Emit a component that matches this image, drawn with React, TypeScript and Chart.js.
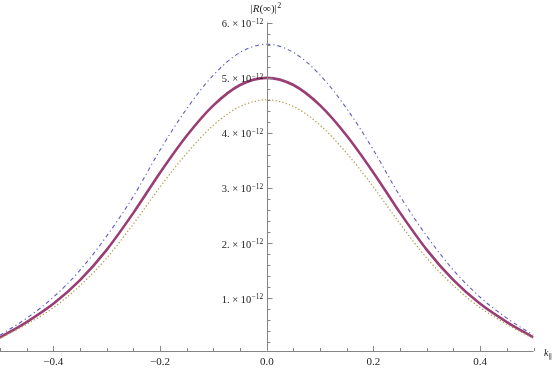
import { useEffect, useRef } from "react";
import { Chart, registerables } from "chart.js";

Chart.register(...registerables);

// k_parallel sample points
const kValues = [
  -0.5, -0.45, -0.4, -0.35, -0.3, -0.25, -0.2, -0.15, -0.1, -0.05, 0,
  0.05, 0.1, 0.15, 0.2, 0.25, 0.3, 0.35, 0.4, 0.45, 0.5,
];
// |R(∞)|^2 values
const dashDotSeries = [
  0.33e-12, 0.64e-12, 1.02e-12, 1.51e-12, 2.13e-12, 2.85e-12, 3.69e-12, 4.44e-12, 5.05e-12, 5.46e-12, 5.61e-12,
  5.46e-12, 5.05e-12, 4.44e-12, 3.69e-12, 2.85e-12, 2.13e-12, 1.51e-12, 1.02e-12, 0.64e-12, 0.33e-12,
];
const solidSeries = [
  0.29e-12, 0.57e-12, 0.9e-12, 1.33e-12, 1.88e-12, 2.55e-12, 3.28e-12, 3.95e-12, 4.5e-12, 4.87e-12, 5.0e-12,
  4.87e-12, 4.5e-12, 3.95e-12, 3.28e-12, 2.55e-12, 1.88e-12, 1.33e-12, 0.9e-12, 0.57e-12, 0.29e-12,
];
const dottedSeries = [
  0.27e-12, 0.53e-12, 0.83e-12, 1.23e-12, 1.73e-12, 2.35e-12, 3.02e-12, 3.63e-12, 4.14e-12, 4.48e-12, 4.6e-12,
  4.48e-12, 4.14e-12, 3.63e-12, 3.02e-12, 2.35e-12, 1.73e-12, 1.23e-12, 0.83e-12, 0.53e-12, 0.27e-12,
];

const xMajorTicks = [-0.4, -0.2, 0, 0.2, 0.4];
const xTickLabels = ["\u22120.4", "\u22120.2", "0.0", "0.2", "0.4"];
const xMinorStep = 0.05;
const yMajorTicks = [1e-12, 2e-12, 3e-12, 4e-12, 5e-12, 6e-12];
const yTickMantissas = ["1.", "2.", "3.", "4.", "5.", "6."];
const yTickExponent = "\u221212";
const yMinorStep = 0.2e-12;
const xRange = [-0.5, 0.5];
const yRange = [0.05e-12, 6.0e-12];

const AXIS_COLOR = "#858585";
const SERIF = '"Liberation Serif", "DejaVu Serif", serif';

const axesPlugin = {
  id: "mmaAxes",
  afterDatasetsDraw(chart: any) {
    const ctx = chart.ctx as CanvasRenderingContext2D;
    const xs = chart.scales.x;
    const ys = chart.scales.y;
    const x0 = xs.getPixelForValue(0);
    const yb = ys.getPixelForValue(yRange[0]);
    const yt = ys.getPixelForValue(yRange[1]);
    const xl = xs.getPixelForValue(xRange[0]);
    const xr = xs.getPixelForValue(xRange[1]);
    ctx.save();
    ctx.strokeStyle = AXIS_COLOR;
    ctx.lineWidth = 1;
    // axis lines
    ctx.beginPath();
    ctx.moveTo(xl, Math.round(yb) + 0.5);
    ctx.lineTo(xr, Math.round(yb) + 0.5);
    ctx.moveTo(Math.round(x0) + 0.5, yb);
    ctx.lineTo(Math.round(x0) + 0.5, yt);
    ctx.stroke();
    // x ticks
    ctx.beginPath();
    const nx = Math.round((xRange[1] - xRange[0]) / xMinorStep);
    for (let i = 0; i <= nx; i++) {
      const v = xRange[0] + i * xMinorStep;
      if (Math.abs(v) < 1e-9) continue;
      const isMajor = xMajorTicks.some((t) => Math.abs(t - v) < 1e-9);
      const px = Math.round(xs.getPixelForValue(v)) + 0.5;
      const len = isMajor ? 5 : 3;
      ctx.moveTo(px, Math.round(yb));
      ctx.lineTo(px, Math.round(yb) - len);
    }
    // y ticks
    const ny = Math.round(yRange[1] / yMinorStep);
    for (let i = 1; i <= ny; i++) {
      const v = i * yMinorStep;
      const isMajor = yMajorTicks.some((t) => Math.abs(t - v) < 1e-15);
      const py = Math.round(ys.getPixelForValue(v)) + 0.5;
      const len = isMajor ? 4.5 : 2.5;
      ctx.moveTo(Math.round(x0) + 1, py);
      ctx.lineTo(Math.round(x0) + 1 + len, py);
    }
    ctx.stroke();

    ctx.fillStyle = "#222";
    // x labels
    ctx.font = `11px ${SERIF}`;
    ctx.textAlign = "center";
    ctx.textBaseline = "alphabetic";
    xMajorTicks.forEach((t, i) => {
      ctx.fillText(xTickLabels[i], xs.getPixelForValue(t), yb + 14.5);
    });
    // y labels
    yMajorTicks.forEach((t, i) => {
      const py = ys.getPixelForValue(t);
      const right = x0 - 3.5;
      ctx.font = `7.5px ${SERIF}`;
      ctx.textAlign = "right";
      const supW = ctx.measureText(yTickExponent).width;
      ctx.fillText(yTickExponent, right, py + 0.8);
      ctx.font = `10.5px ${SERIF}`;
      ctx.fillText(`${yTickMantissas[i]} \u00d7 10`, right - supW - 0.3, py + 4.3);
    });
    // y axis title |R(∞)|^2
    ctx.textAlign = "left";
    let tx = 250.5;
    const by = 12.3;
    const seg = (txt: string, font: string, y: number) => {
      ctx.font = font;
      ctx.fillText(txt, tx, y);
      tx += ctx.measureText(txt).width;
    };
    seg("|", `11px ${SERIF}`, by);
    seg("R", `italic 11px ${SERIF}`, by);
    seg("(\u221e)|", `11px ${SERIF}`, by);
    tx += 0.5;
    seg("2", `8px ${SERIF}`, by - 4.5);
    // x axis title k_∥
    tx = xr + 10.5;
    seg("k", `italic 10px ${SERIF}`, yb + 5.5);
    tx += 0.3;
    seg("\u2225", `7px ${SERIF}`, yb + 8);
    ctx.restore();
  },
};

export default function App() {
  const ref = useRef<HTMLCanvasElement | null>(null);
  useEffect(() => {
    document.body.style.margin = "0";
    const canvas = ref.current!;
    const mk = (vals: number[]) => kValues.map((k, i) => ({ x: k, y: vals[i] }));
    const chart = new Chart(canvas, {
      type: "line",
      data: {
        datasets: [
          {
            data: mk(dottedSeries),
            borderColor: "rgb(175,160,80)",
            borderWidth: 1.3,
            borderDash: [1.3, 2.2],
            pointRadius: 0,
            cubicInterpolationMode: "monotone",
            fill: false,
          },
          {
            data: mk(dashDotSeries),
            borderColor: "rgb(95,95,195)",
            borderWidth: 1.1,
            borderDash: [4, 3, 1.2, 3],
            pointRadius: 0,
            cubicInterpolationMode: "monotone",
            fill: false,
          },
          {
            data: mk(solidSeries),
            borderColor: "rgb(153,61,116)",
            borderWidth: 2.6,
            pointRadius: 0,
            cubicInterpolationMode: "monotone",
            fill: false,
          },
        ],
      },
      options: {
        animation: false,
        responsive: false,
        maintainAspectRatio: false,
        devicePixelRatio: 1,
        layout: { padding: { left: 0, right: 20.5, top: 22.7, bottom: 18.3 } },
        scales: {
          x: { type: "linear", min: xRange[0], max: xRange[1], display: false },
          y: { type: "linear", min: yRange[0], max: yRange[1], display: false },
        },
        plugins: { legend: { display: false }, tooltip: { enabled: false } },
        events: [],
      },
      plugins: [axesPlugin],
    } as any);
    return () => chart.destroy();
  }, []);
  return (
    <div style={{ position: "fixed", left: 0, top: 0, width: 554, height: 369, background: "#fff" }}>
      <canvas ref={ref} width={554} height={369} style={{ width: 554, height: 369, display: "block" }} />
    </div>
  );
}
